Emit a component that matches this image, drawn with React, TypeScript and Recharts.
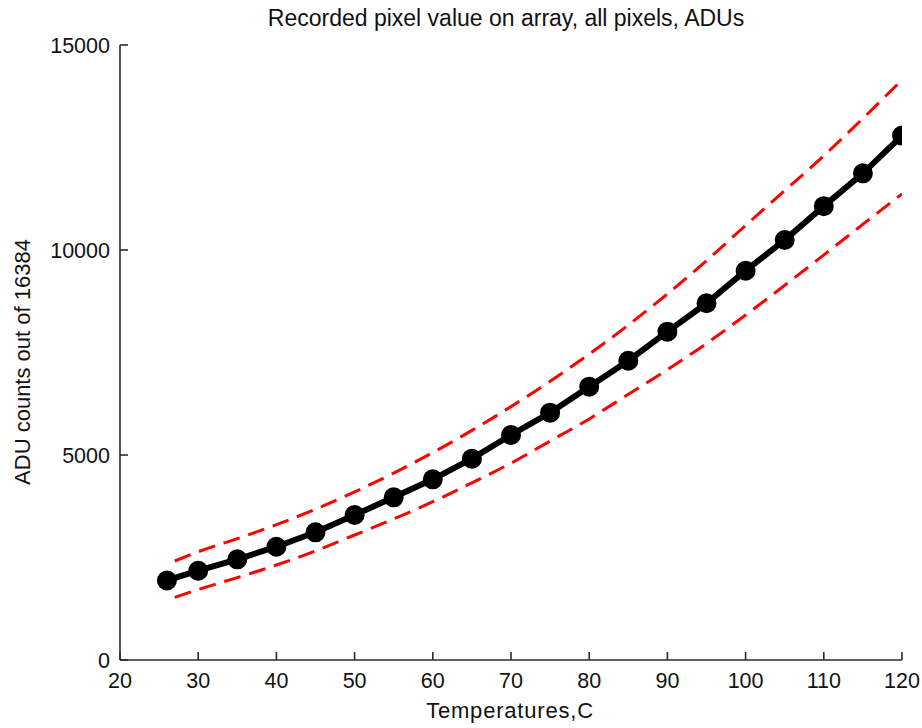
import React from 'react';
import { LineChart, Line, XAxis, YAxis } from 'recharts';

const temps = [26, 30, 35, 40, 45, 50, 55, 60, 65, 70, 75, 80, 85, 90, 95, 100, 105, 110, 115, 120];
const meanAdu = [1940, 2178, 2456, 2763, 3114, 3537, 3968, 4407, 4910, 5488, 6033, 6667, 7300, 8008, 8700, 9495, 10244, 11070, 11870, 12790];

const bandTemps = [27, 30, 35, 40, 45, 50, 55, 60, 65, 70, 75, 80, 85, 90, 95, 100, 105, 110, 115, 120];
const upperAdu = [2415, 2640, 2960, 3300, 3680, 4100, 4560, 5060, 5600, 6180, 6800, 7460, 8170, 8930, 9740, 10600, 11450, 12300, 13210, 14150];
const lowerAdu = [1529, 1720, 2010, 2317, 2660, 3049, 3440, 3860, 4320, 4800, 5340, 5880, 6480, 7080, 7720, 8415, 9140, 9880, 10627, 11370];

const xTicks = [20, 30, 40, 50, 60, 70, 80, 90, 100, 110, 120];
const yTicks = [0, 5000, 10000, 15000];

const titleText = 'Recorded pixel value on array, all pixels, ADUs';
const xLabel = 'Temperatures,C';
const yLabel = 'ADU counts out of 16384';

const meanData = temps.map((t, i) => ({ t, v: meanAdu[i] }));
const upperData = bandTemps.map((t, i) => ({ t, v: upperAdu[i] }));
const lowerData = bandTemps.map((t, i) => ({ t, v: lowerAdu[i] }));

const FONT = '"Liberation Sans", Arial, Helvetica, sans-serif';
const AXIS = '#2b2b2b';

export default function App() {
  return (
    <div style={{ position: 'absolute', left: 0, top: 0, width: 922, height: 728, background: '#fff' }}>
      <LineChart width={922} height={728} margin={{ top: 45, right: 20, bottom: 8, left: 0 }}>
        <XAxis
          type="number"
          dataKey="t"
          domain={[20, 120]}
          ticks={xTicks}
          allowDataOverflow
          height={60}
          stroke={AXIS}
          strokeWidth={1.6}
          tickSize={-8}
          tickMargin={21}
          tick={{ fill: '#111', fontSize: 21.5, fontFamily: FONT }}
        />
        <YAxis
          type="number"
          domain={[0, 15000]}
          ticks={yTicks}
          allowDataOverflow
          width={120}
          stroke={AXIS}
          strokeWidth={1.6}
          tickSize={-8}
          tickMargin={18}
          tick={{ fill: '#111', fontSize: 21.5, fontFamily: FONT }}
        />
        <Line
          data={upperData}
          dataKey="v"
          type="monotone"
          stroke="#ff0000"
          strokeWidth={3}
          strokeDasharray="17 9"
          dot={false}
          isAnimationActive={false}
        />
        <Line
          data={lowerData}
          dataKey="v"
          type="monotone"
          stroke="#ff0000"
          strokeWidth={3}
          strokeDasharray="17 9"
          dot={false}
          isAnimationActive={false}
        />
        <Line
          data={meanData}
          dataKey="v"
          type="linear"
          stroke="#000"
          strokeWidth={6}
          dot={{ r: 9, fill: '#000', stroke: '#000', strokeWidth: 2 }}
          isAnimationActive={false}
        />
      </LineChart>
      <svg
        width={922}
        height={728}
        style={{ position: 'absolute', left: 0, top: 0, pointerEvents: 'none' }}
      >
        <text x={506} y={26} textAnchor="middle" fontSize={23} fontFamily={FONT} fill="#111">
          {titleText}
        </text>
        <text x={510} y={718} textAnchor="middle" fontSize={22} letterSpacing={0.8} fontFamily={FONT} fill="#111">
          {xLabel}
        </text>
        <text
          transform="translate(30,362) rotate(-90)"
          textAnchor="middle"
          fontSize={22}
          fontFamily={FONT}
          fill="#111"
        >
          {yLabel}
        </text>
      </svg>
    </div>
  );
}
